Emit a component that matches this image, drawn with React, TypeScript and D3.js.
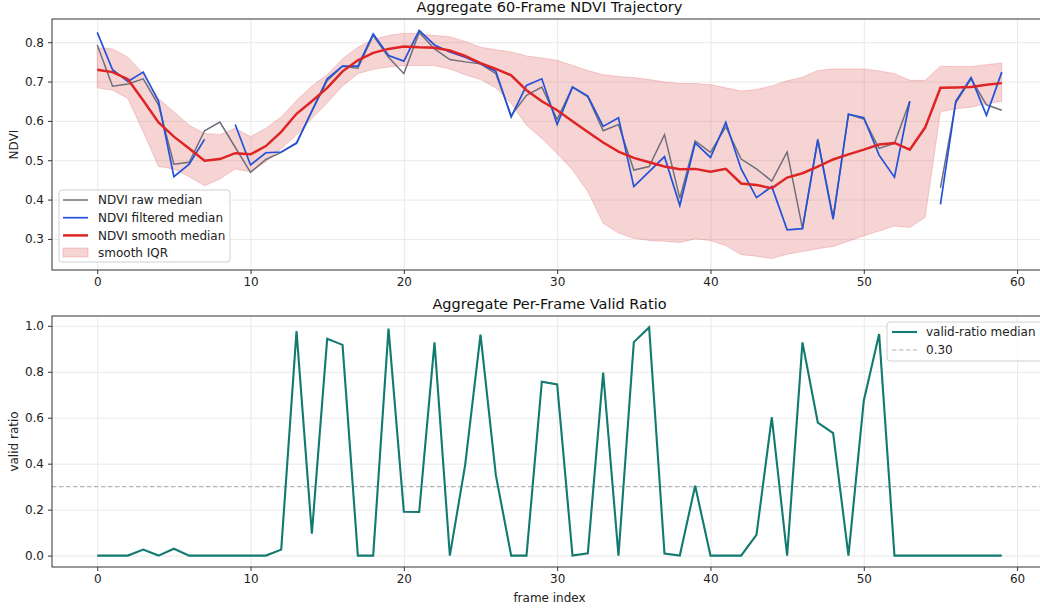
import React, { useEffect, useRef } from 'react';
import * as d3 from 'd3';

// frame index 0..59
const frames: number[] = Array.from({ length: 60 }, (_, i) => i);

const rawMedian: (number | null)[] = [
	0.793, 0.688, 0.694, 0.707, 0.64, 0.49, 0.495, 0.575, 0.597, 0.533,
	0.469, 0.502, 0.52, 0.545, 0.625, 0.702, 0.739, 0.734, 0.817, 0.762,
	0.72, 0.825, 0.783, 0.756, 0.75, 0.745, 0.72, 0.614, 0.665, 0.686,
	0.604, 0.686, 0.661, 0.575, 0.591, 0.475, 0.484, 0.565, 0.403, 0.549,
	0.52, 0.585, 0.503, 0.478, 0.447, 0.521, 0.327, 0.554, 0.355, 0.617,
	0.605, 0.53, 0.543, 0.65, null, 0.43, 0.646, 0.707, 0.641, 0.627,
];

const filteredMedian: (number | null)[] = [
	0.825, 0.73, 0.7, 0.724, 0.65, 0.458, 0.49, 0.553, null, 0.591,
	0.488, 0.519, 0.521, 0.543, 0.625, 0.707, 0.739, 0.739, 0.821, 0.766,
	0.752, 0.83, 0.793, 0.775, 0.762, 0.745, 0.726, 0.61, 0.69, 0.707,
	0.591, 0.686, 0.663, 0.586, 0.608, 0.433, 0.471, 0.509, 0.385, 0.544,
	0.507, 0.596, 0.478, 0.405, 0.433, 0.323, 0.326, 0.551, 0.35, 0.617,
	0.608, 0.513, 0.457, 0.65, null, 0.388, 0.65, 0.71, 0.614, 0.724,
];

const smoothMedian: number[] = [
	0.73, 0.724, 0.706, 0.652, 0.596, 0.56, 0.53, 0.499, 0.503, 0.518,
	0.515, 0.536, 0.572, 0.618, 0.65, 0.684, 0.726, 0.754, 0.773, 0.783,
	0.789, 0.787, 0.786, 0.779, 0.765, 0.747, 0.732, 0.716, 0.678, 0.65,
	0.627, 0.599, 0.572, 0.545, 0.522, 0.506, 0.495, 0.484, 0.477, 0.478,
	0.471, 0.478, 0.441, 0.437, 0.429, 0.456, 0.467, 0.484, 0.502, 0.515,
	0.527, 0.54, 0.544, 0.527, 0.583, 0.684, 0.685, 0.686, 0.692, 0.696,
];

const iqrUpper: number[] = [
	0.786, 0.783, 0.762, 0.72, 0.657, 0.623, 0.589, 0.568, 0.565, 0.581,
	0.56, 0.581, 0.61, 0.652, 0.689, 0.717, 0.758, 0.787, 0.807, 0.817,
	0.823, 0.821, 0.817, 0.814, 0.802, 0.787, 0.781, 0.775, 0.765, 0.76,
	0.754, 0.741, 0.728, 0.717, 0.713, 0.71, 0.705, 0.699, 0.695, 0.695,
	0.692, 0.684, 0.676, 0.68, 0.689, 0.702, 0.711, 0.728, 0.732, 0.732,
	0.732, 0.727, 0.72, 0.703, 0.703, 0.739, 0.738, 0.738, 0.743, 0.747,
];

const iqrLower: number[] = [
	0.684, 0.678, 0.657, 0.572, 0.484, 0.478, 0.458, 0.435, 0.452, 0.478,
	0.471, 0.496, 0.53, 0.564, 0.606, 0.646, 0.689, 0.72, 0.731, 0.737,
	0.741, 0.741, 0.741, 0.732, 0.717, 0.705, 0.684, 0.644, 0.589, 0.555,
	0.517, 0.475, 0.42, 0.34, 0.315, 0.302, 0.296, 0.294, 0.291, 0.3,
	0.296, 0.283, 0.26, 0.256, 0.25, 0.261, 0.268, 0.275, 0.281, 0.294,
	0.308, 0.32, 0.333, 0.329, 0.355, 0.623, 0.631, 0.635, 0.644, 0.65,
];

const validRatio: number[] = [
	0, 0, 0, 0.026, 0, 0.03, 0, 0, 0, 0,
	0, 0, 0.026, 0.977, 0.095, 0.944, 0.917, 0, 0, 0.988,
	0.191, 0.19, 0.928, 0, 0.395, 0.962, 0.35, 0, 0, 0.757,
	0.745, 0, 0.01, 0.796, 0, 0.929, 0.993, 0.009, 0, 0.304,
	0, 0, 0, 0.09, 0.602, 0, 0.928, 0.579, 0.533, 0,
	0.674, 0.964, 0, 0, 0, 0, 0, 0, 0, 0,
];

const threshold = 0.3;
const xTicks = [0, 10, 20, 30, 40, 50, 60];
const ndviTicks = [0.3, 0.4, 0.5, 0.6, 0.7, 0.8];
const ratioTicks = [0.0, 0.2, 0.4, 0.6, 0.8, 1.0];

const W = 1040;
const H = 609;
const FONT = 'DejaVu Sans, sans-serif';
const FS = 12;
const FS_TITLE = 14.5;

const colRaw = '#6f6f7c';
const colFilt = '#2152d9';
const colSmooth = '#de2424';
const colBand = '#e06666';
const colTeal = '#127a6f';

// matplotlib style 5% auto margins
function padDomain(lo: number, hi: number): [number, number] {
	const r = hi - lo;
	return [lo - 0.05 * r, hi + 0.05 * r];
}

const App: React.FC = () => {
	const ref = useRef<SVGSVGElement>(null);

	useEffect(() => {
		const svg = d3.select(ref.current);
		svg.selectAll('*').remove();

		const left = 52;
		const right = 1047;
		const top1 = 19;
		const bot1 = 270;
		const top2 = 316;
		const bot2 = 567;

		const x = d3.scaleLinear().domain(padDomain(0, 59)).range([left, right]);

		const allTop = [...iqrLower, ...iqrUpper, ...(filteredMedian.filter((d) => d !== null) as number[])];
		const y1 = d3
			.scaleLinear()
			.domain(padDomain(d3.min(allTop) as number, d3.max(allTop) as number))
			.range([bot1, top1]);
		const y2 = d3
			.scaleLinear()
			.domain(padDomain(0, d3.max(validRatio) as number))
			.range([bot2, top2]);

		// clip so the lines stay in the plot areas
		const defs = svg.append('defs');
		defs.append('clipPath').attr('id', 'clipTop').append('rect').attr('x', left).attr('y', top1).attr('width', right - left).attr('height', bot1 - top1);
		defs.append('clipPath').attr('id', 'clipBot').append('rect').attr('x', left).attr('y', top2).attr('width', right - left).attr('height', bot2 - top2);

		function drawGrid(y: any, top: number, bot: number, yTicks: number[]) {
			const g = svg.append('g');
			g.append('g')
				.attr('transform', `translate(0,${bot})`)
				.call(d3.axisBottom(x).tickValues(xTicks).tickSize(-(bot - top)).tickFormat(() => ''))
				.call((s) => s.select('.domain').remove())
				.selectAll('line')
				.attr('stroke', '#e6e6e6')
				.attr('stroke-width', 0.9);
			g.append('g')
				.attr('transform', `translate(${left},0)`)
				.call(d3.axisLeft(y).tickValues(yTicks).tickSize(-(right - left)).tickFormat(() => ''))
				.call((s) => s.select('.domain').remove())
				.selectAll('line')
				.attr('stroke', '#e6e6e6')
				.attr('stroke-width', 0.9);
		}

		function drawAxes(y: any, top: number, bot: number, yTicks: number[], fmt: string) {
			const g = svg.append('g');
			const xa = g
				.append('g')
				.attr('transform', `translate(0,${bot})`)
				.call(d3.axisBottom(x).tickValues(xTicks).tickSize(4).tickPadding(3).tickFormat(d3.format('d')));
			const ya = g
				.append('g')
				.attr('transform', `translate(${left},0)`)
				.call(d3.axisLeft(y).tickValues(yTicks).tickSize(4).tickPadding(4).tickFormat(d3.format(fmt)));
			[xa, ya].forEach((a) => {
				a.select('.domain').remove();
				a.selectAll('line').attr('stroke', '#333');
				a.selectAll('text').attr('font-family', FONT).attr('font-size', FS).attr('fill', '#222');
			});
			g.append('rect')
				.attr('x', left)
				.attr('y', top)
				.attr('width', right - left)
				.attr('height', bot - top)
				.attr('fill', 'none')
				.attr('stroke', '#333')
				.attr('stroke-width', 1);
		}

		// ---------- top panel ----------
		drawGrid(y1, top1, bot1, ndviTicks);
		const gt = svg.append('g').attr('clip-path', 'url(#clipTop)');

		const band = d3
			.area<number>()
			.x((i) => x(i))
			.y0((i) => y1(iqrLower[i]))
			.y1((i) => y1(iqrUpper[i]));
		gt.append('path')
			.datum(frames)
			.attr('d', band)
			.attr('fill', colBand)
			.attr('fill-opacity', 0.28)
			.attr('stroke', colBand)
			.attr('stroke-opacity', 0.3)
			.attr('stroke-width', 1);

		const gapLine = (vals: (number | null)[]) =>
			d3
				.line<number>()
				.defined((i) => vals[i] !== null)
				.x((i) => x(i))
				.y((i) => y1(vals[i] as number));

		gt.append('path')
			.datum(frames)
			.attr('d', gapLine(rawMedian))
			.attr('fill', 'none')
			.attr('stroke', colRaw)
			.attr('stroke-width', 1.5);
		gt.append('path')
			.datum(frames)
			.attr('d', gapLine(filteredMedian))
			.attr('fill', 'none')
			.attr('stroke', colFilt)
			.attr('stroke-width', 1.7);
		gt.append('path')
			.datum(frames)
			.attr('d', gapLine(smoothMedian))
			.attr('fill', 'none')
			.attr('stroke', colSmooth)
			.attr('stroke-width', 2.5);

		drawAxes(y1, top1, bot1, ndviTicks, '.1f');

		svg.append('text')
			.attr('x', (left + right) / 2)
			.attr('y', 12)
			.attr('text-anchor', 'middle')
			.attr('font-family', FONT)
			.attr('font-size', FS_TITLE)
			.attr('fill', '#111')
			.text('Aggregate 60-Frame NDVI Trajectory');
		svg.append('text')
			.attr('transform', `translate(18,${(top1 + bot1) / 2}) rotate(-90)`)
			.attr('text-anchor', 'middle')
			.attr('font-family', FONT)
			.attr('font-size', FS)
			.attr('fill', '#222')
			.text('NDVI');

		// top legend
		const lg = svg.append('g').attr('transform', 'translate(59,190)');
		lg.append('rect')
			.attr('width', 171)
			.attr('height', 72)
			.attr('rx', 3)
			.attr('fill', 'white')
			.attr('fill-opacity', 0.8)
			.attr('stroke', '#d0d0d0');
		const topItems = [
			{ label: 'NDVI raw median', color: colRaw, w: 1.5 },
			{ label: 'NDVI filtered median', color: colFilt, w: 1.7 },
			{ label: 'NDVI smooth median', color: colSmooth, w: 2.5 },
		];
		topItems.forEach((it, i) => {
			const cy = 10 + i * 17.7;
			lg.append('line').attr('x1', 4).attr('x2', 29).attr('y1', cy).attr('y2', cy).attr('stroke', it.color).attr('stroke-width', it.w);
			lg.append('text')
				.attr('x', 39)
				.attr('y', cy + 4.3)
				.attr('font-family', FONT)
				.attr('font-size', FS)
				.attr('fill', '#222')
				.text(it.label);
		});
		lg.append('rect')
			.attr('x', 4)
			.attr('y', 58)
			.attr('width', 25)
			.attr('height', 9)
			.attr('fill', colBand)
			.attr('fill-opacity', 0.28)
			.attr('stroke', colBand)
			.attr('stroke-opacity', 0.3);
		lg.append('text')
			.attr('x', 39)
			.attr('y', 10 + 3 * 17.7 + 4.3)
			.attr('font-family', FONT)
			.attr('font-size', FS)
			.attr('fill', '#222')
			.text('smooth IQR');

		// ---------- bottom panel ----------
		drawGrid(y2, top2, bot2, ratioTicks);
		const gb = svg.append('g').attr('clip-path', 'url(#clipBot)');

		gb.append('line')
			.attr('x1', left)
			.attr('x2', right)
			.attr('y1', y2(threshold))
			.attr('y2', y2(threshold))
			.attr('stroke', '#b4b4bc')
			.attr('stroke-width', 1.1)
			.attr('stroke-dasharray', '4.5,2.5');

		gb.append('path')
			.datum(frames)
			.attr(
				'd',
				d3
					.line<number>()
					.x((i) => x(i))
					.y((i) => y2(validRatio[i]))
			)
			.attr('fill', 'none')
			.attr('stroke', colTeal)
			.attr('stroke-width', 2.1);

		drawAxes(y2, top2, bot2, ratioTicks, '.1f');

		svg.append('text')
			.attr('x', (left + right) / 2)
			.attr('y', 309)
			.attr('text-anchor', 'middle')
			.attr('font-family', FONT)
			.attr('font-size', FS_TITLE)
			.attr('fill', '#111')
			.text('Aggregate Per-Frame Valid Ratio');
		svg.append('text')
			.attr('transform', `translate(18,${(top2 + bot2) / 2}) rotate(-90)`)
			.attr('text-anchor', 'middle')
			.attr('font-family', FONT)
			.attr('font-size', FS)
			.attr('fill', '#222')
			.text('valid ratio');
		svg.append('text')
			.attr('x', (left + right) / 2)
			.attr('y', 602)
			.attr('text-anchor', 'middle')
			.attr('font-family', FONT)
			.attr('font-size', FS)
			.attr('fill', '#222')
			.text('frame index');

		// bottom legend
		const lb = svg.append('g').attr('transform', 'translate(887,322)');
		lb.append('rect')
			.attr('width', 170)
			.attr('height', 39)
			.attr('rx', 3)
			.attr('fill', 'white')
			.attr('fill-opacity', 0.8)
			.attr('stroke', '#d0d0d0');
		lb.append('line').attr('x1', 5).attr('x2', 30).attr('y1', 10).attr('y2', 10).attr('stroke', colTeal).attr('stroke-width', 2.1);
		lb.append('line')
			.attr('x1', 5)
			.attr('x2', 30)
			.attr('y1', 28)
			.attr('y2', 28)
			.attr('stroke', '#b4b4bc')
			.attr('stroke-width', 1.1)
			.attr('stroke-dasharray', '4.5,2.5');
		lb.append('text').attr('x', 39).attr('y', 14.3).attr('font-family', FONT).attr('font-size', FS).attr('fill', '#222').text('valid-ratio median');
		lb.append('text').attr('x', 39).attr('y', 32.3).attr('font-family', FONT).attr('font-size', FS).attr('fill', '#222').text(threshold.toFixed(2));
	}, []);

	return (
		<div style={{ position: 'absolute', left: 0, top: 0, width: W, height: H, background: 'white', overflow: 'hidden' }}>
			<svg ref={ref} width={W} height={H} />
		</div>
	);
};

export default App;
